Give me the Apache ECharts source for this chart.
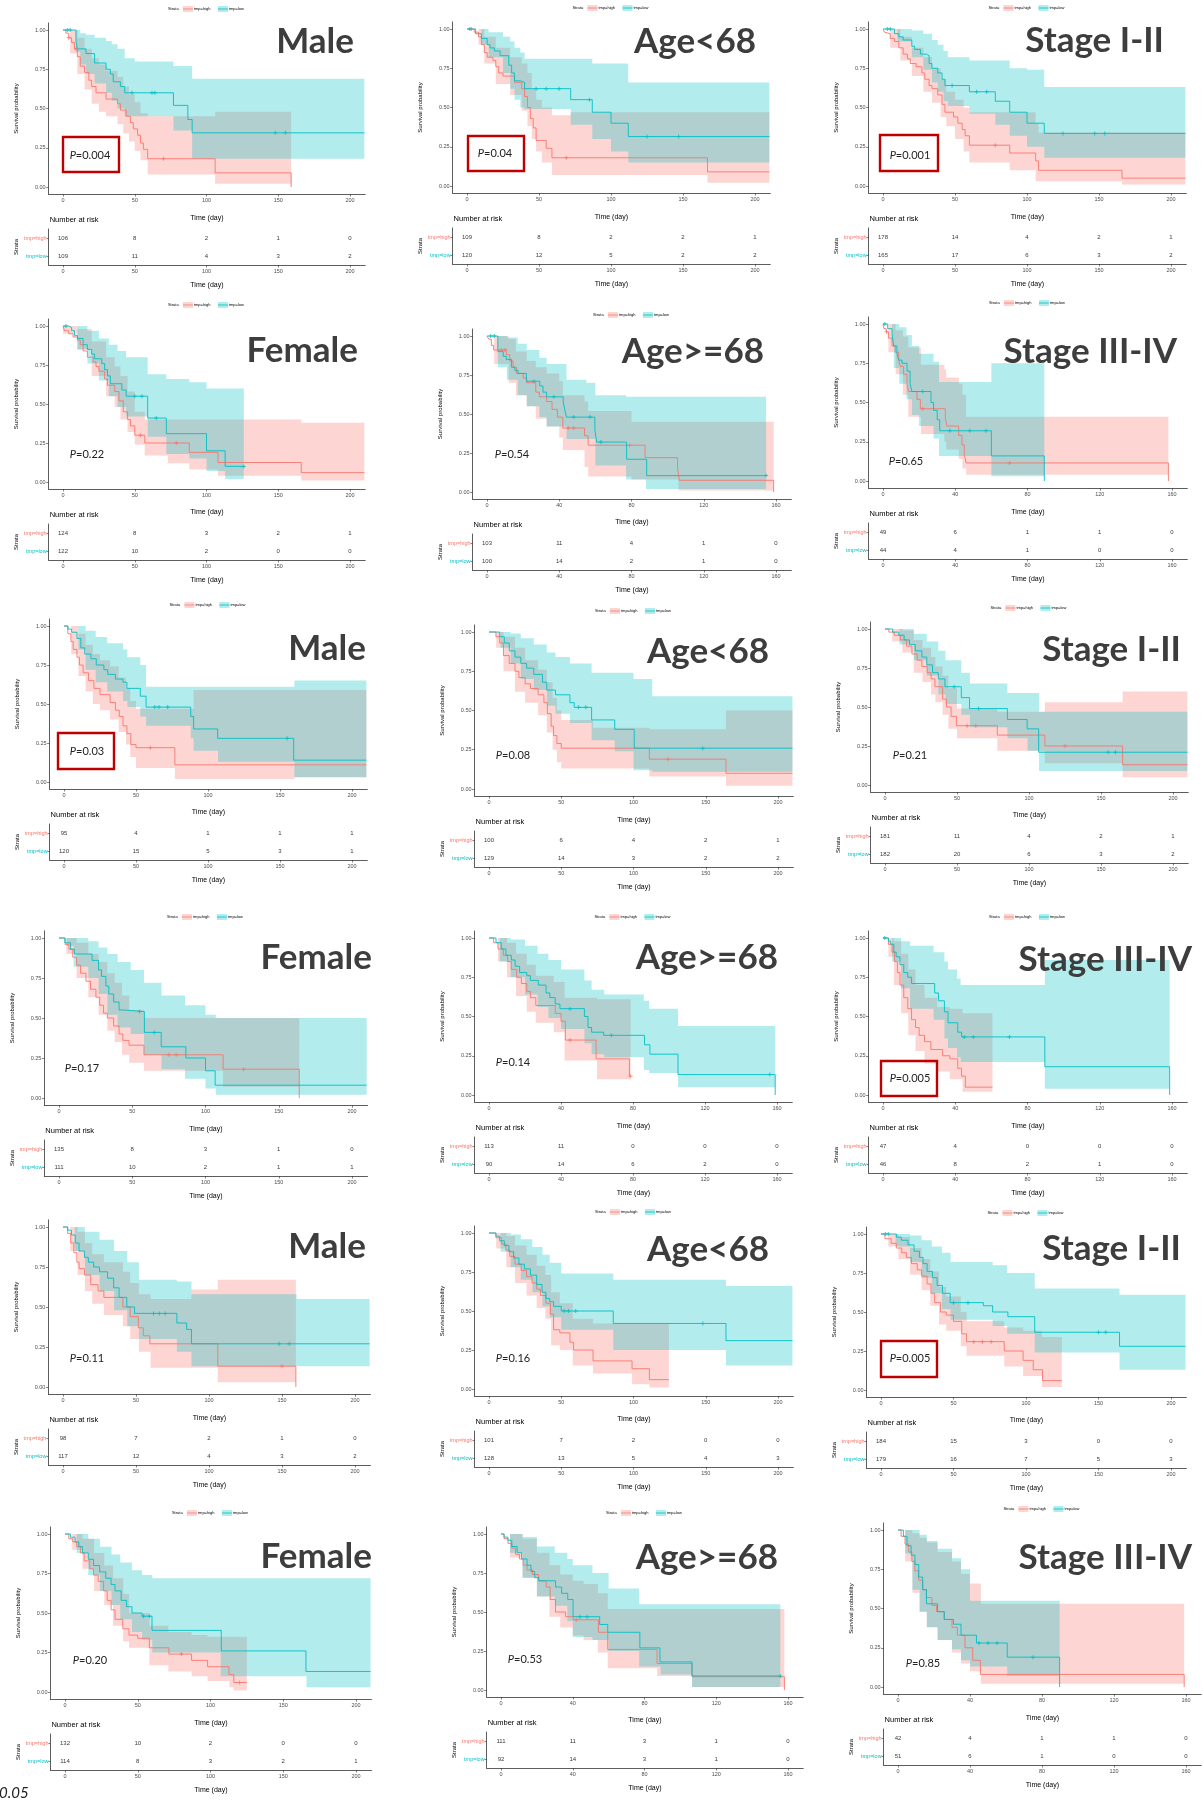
<!DOCTYPE html>
<html><head><meta charset="utf-8">
<script src="https://cdn.jsdelivr.net/npm/echarts@6/dist/echarts.min.js"></script>
<style>html,body{margin:0;padding:0;background:#fff}#c{width:1203px;height:1802px}</style>
</head><body><div id="c"></div><script>
// ---------------- DATA ----------------
const titles = ['Male','Age<68','Stage I-II','Female','Age>=68','Stage III-IV','Male','Age<68','Stage I-II','Female','Age>=68','Stage III-IV','Male','Age<68','Stage I-II','Female','Age>=68','Stage III-IV'];
const pValues = ['0.004','0.04','0.001','0.22','0.54','0.65','0.03','0.08','0.21','0.17','0.14','0.005','0.11','0.16','0.005','0.20','0.53','0.85'];
const pBoxed = [1,1,1,0,0,0,1,0,0,0,0,1,0,0,1,0,0,0];
const timeMax = [200,200,200,200,160,160,200,200,200,200,160,160,200,200,200,200,160,160];
const ticks200 = [0,50,100,150,200];
const ticks160 = [0,40,80,120,160];
const survTicks = [0,0.25,0.5,0.75,1];
const strata = ['tmp=low','tmp=high'];
const riskHigh = [[106,8,2,1,0],[109,8,2,2,1],[178,14,4,2,1],[124,8,3,2,1],[103,11,4,1,0],[49,6,1,1,0],[95,4,1,1,1],[100,6,4,2,1],[181,11,4,2,1],[135,8,3,1,0],[113,11,0,0,0],[47,4,0,0,0],[98,7,2,1,0],[101,7,2,0,0],[184,15,3,0,0],[132,10,2,0,0],[111,11,3,1,0],[42,4,1,1,0]];
const riskLow = [[109,11,4,3,2],[120,12,5,2,2],[165,17,6,3,2],[122,10,2,0,0],[100,14,2,1,0],[44,4,1,0,0],[120,15,5,3,1],[129,14,3,2,2],[182,20,6,3,2],[111,10,2,1,1],[90,14,6,2,0],[46,8,2,1,0],[117,12,4,3,2],[128,13,5,4,3],[179,16,7,5,3],[114,8,3,2,1],[92,14,3,1,0],[51,6,1,0,0]];

// panel 1
const highCurve1=[[0,1],[2,0.98],[4,0.95],[6,0.92],[8,0.88],[10,0.83],[12,0.77],[15,0.73],[18,0.68],[20,0.64],[23,0.60],[30,0.56],[38,0.53],[40,0.49],[44,0.45],[47,0.41],[49,0.37],[52,0.33],[54,0.28],[56,0.24],[59,0.18],[106,0.09],[159,0]];
const highBand1=[[0,1,1],[5,0.85,1],[10,0.72,0.95],[15,0.62,0.88],[20,0.53,0.82],[25,0.48,0.78],[30,0.45,0.74],[38,0.40,0.70],[42,0.34,0.64],[46,0.29,0.59],[50,0.23,0.54],[54,0.17,0.47],[59,0.08,0.45],[106,0.02,0.48]];
const highCens1=[4,9,70];
const lowCurve1=[[0,1],[9,0.93],[10,0.88],[16,0.85],[22,0.79],[30,0.75],[33,0.72],[35,0.67],[40,0.64],[43,0.60],[77,0.52],[87,0.43],[90,0.345],[210,0.345]];
const lowBand1=[[0,1,1],[9,0.86,1],[12,0.78,0.98],[16,0.72,0.97],[22,0.66,0.95],[30,0.60,0.93],[34,0.55,0.91],[38,0.50,0.88],[43,0.45,0.82],[50,0.45,0.80],[77,0.36,0.77],[90,0.18,0.69]];
const lowCens1=[3,5,48,62,64,148,155];
// panel 2
const highCurve2=[[0,1],[5,0.98],[8,0.95],[10,0.90],[12,0.85],[14,0.82],[18,0.80],[20,0.76],[22,0.72],[25,0.70],[33,0.66],[38,0.62],[40,0.57],[42,0.50],[44,0.43],[46,0.37],[48,0.29],[55,0.24],[59,0.18],[167,0.09],[210,0.09]];
const highBand2=[[0,1,1],[8,0.90,1],[12,0.78,0.95],[20,0.65,0.88],[30,0.58,0.82],[38,0.48,0.78],[42,0.38,0.72],[45,0.30,0.62],[48,0.22,0.55],[52,0.15,0.50],[59,0.07,0.45],[72,0.07,0.47],[167,0.02,0.47]];
const highCens2=[3,69];
const lowCurve2=[[0,1],[6,0.97],[10,0.94],[14,0.90],[16,0.88],[19,0.86],[23,0.83],[29,0.77],[31,0.72],[33,0.67],[37,0.66],[40,0.62],[72,0.55],[87,0.47],[100,0.40],[112,0.315],[210,0.315]];
const lowBand2=[[0,1,1],[10,0.90,1],[15,0.82,0.98],[25,0.72,0.95],[30,0.62,0.92],[33,0.55,0.88],[37,0.50,0.85],[40,0.49,0.81],[72,0.39,0.81],[87,0.30,0.78],[100,0.22,0.78],[112,0.15,0.66]];
const lowCens2=[2,48,55,64,85,125,147];
// panel 3
const highCurve3=[[0,1],[1,0.98],[2,0.97],[5,0.94],[8,0.92],[11,0.88],[14,0.84],[17,0.81],[19,0.78],[23,0.76],[27,0.72],[29,0.68],[32,0.64],[34,0.62],[38,0.58],[41,0.52],[43,0.47],[49,0.44],[52,0.40],[55,0.36],[57,0.32],[60,0.26],[88,0.21],[106,0.16],[108,0.10],[166,0.05],[210,0.05]];
const highBand3=[[0,1,1],[5,0.88,1],[12,0.80,0.95],[20,0.70,0.88],[28,0.60,0.82],[34,0.53,0.75],[40,0.44,0.68],[44,0.38,0.60],[50,0.30,0.55],[56,0.22,0.50],[60,0.15,0.47],[88,0.10,0.47],[106,0.03,0.40],[108,0.03,0.34],[166,0.01,0.34]];
const highCens3=[78];
const lowCurve3=[[0,1],[8,0.97],[11,0.95],[14,0.93],[20,0.89],[22,0.87],[26,0.84],[30,0.83],[32,0.78],[34,0.75],[38,0.72],[41,0.68],[43,0.64],[60,0.60],[78,0.54],[88,0.47],[100,0.40],[112,0.335],[210,0.335]];
const lowBand3=[[0,1,1],[10,0.92,1],[20,0.82,0.99],[28,0.74,0.97],[34,0.66,0.93],[38,0.60,0.90],[42,0.54,0.86],[45,0.51,0.82],[60,0.46,0.80],[78,0.39,0.80],[88,0.32,0.75],[100,0.25,0.74],[112,0.18,0.63]];
const lowCens3=[3,5,48,65,72,125,147,154];
// panel 4
const highCurve4=[[0,1],[1,0.97],[4,0.95],[7,0.93],[10,0.91],[12,0.88],[14,0.84],[17,0.80],[21,0.77],[23,0.74],[25,0.71],[29,0.66],[31,0.62],[36,0.58],[39,0.52],[42,0.45],[45,0.40],[47,0.36],[50,0.30],[57,0.25],[88,0.19],[108,0.125],[166,0.06],[210,0.06]];
const highBand4=[[0,0.95,1],[10,0.85,0.98],[20,0.68,0.90],[30,0.55,0.80],[36,0.48,0.74],[40,0.40,0.68],[45,0.32,0.58],[50,0.24,0.45],[57,0.17,0.40],[73,0.12,0.40],[88,0.08,0.40],[108,0.04,0.40],[166,0.01,0.38]];
const highCens4=[54,79];
const lowCurve4=[[0,1],[4,0.99],[6,0.97],[8,0.94],[10,0.92],[14,0.88],[17,0.85],[20,0.82],[22,0.79],[27,0.76],[29,0.72],[31,0.68],[33,0.63],[41,0.59],[44,0.55],[59,0.41],[72,0.31],[100,0.20],[113,0.10],[126,0.10]];
const lowBand4=[[0,1,1],[10,0.85,1],[17,0.76,0.97],[25,0.65,0.92],[32,0.55,0.88],[38,0.48,0.84],[44,0.42,0.80],[59,0.29,0.69],[72,0.18,0.66],[88,0.15,0.64],[100,0.07,0.60],[113,0.02,0.60]];
const lowCens4=[2,50,55,65,126];
// panel 5
const highCurve5=[[0,1],[1,0.98],[2.4,0.94],[3.7,0.91],[10.7,0.88],[12.6,0.84],[14.4,0.80],[16.3,0.76],[20,0.73],[22,0.70],[27,0.64],[29,0.61],[33,0.58],[36,0.53],[39,0.48],[42,0.41],[54,0.36],[56,0.30],[87.5,0.22],[105.5,0.15],[106.5,0.075],[158.7,0]];
const highBand5=[[0,1,1],[4,0.82,1],[12,0.70,0.98],[16,0.62,0.90],[22,0.55,0.84],[27,0.47,0.80],[33,0.42,0.76],[40,0.35,0.71],[42,0.27,0.62],[54,0.16,0.58],[56,0.10,0.52],[80,0.08,0.45],[106,0.01,0.45]];
const highCens5=[8,10,45,48,79];
const lowCurve5=[[0,1],[6,0.90],[9,0.87],[10.7,0.85],[13.5,0.80],[15.4,0.78],[17.2,0.76],[21.8,0.71],[29.2,0.68],[31,0.64],[33,0.61],[42.2,0.58],[43,0.53],[44,0.48],[59.7,0.40],[60.7,0.32],[77.3,0.21],[88.4,0.105],[154.5,0.105]];
const lowBand5=[[0,1,1],[6,0.80,1],[11,0.72,0.99],[17,0.62,0.95],[22,0.55,0.91],[29,0.48,0.86],[33,0.42,0.82],[44,0.34,0.72],[55,0.34,0.70],[60,0.17,0.62],[77,0.08,0.61],[88,0.02,0.61]];
const lowCens5=[2,4,26,37,48,57,63,154.5];
// panel 6
const highCurve6=[[0,1],[0.5,0.97],[1.8,0.95],[3,0.91],[5,0.86],[6.8,0.82],[8.7,0.77],[9.6,0.73],[11.4,0.68],[13.3,0.62],[14.2,0.57],[18.8,0.52],[20.7,0.46],[34.5,0.40],[35.4,0.35],[41.9,0.29],[43.7,0.23],[45,0.17],[46,0.115],[158,0]];
const highBand6=[[0,1,1],[3,0.82,1],[7,0.68,0.96],[11,0.55,0.92],[14,0.41,0.85],[21,0.30,0.74],[34,0.25,0.71],[35,0.20,0.66],[42,0.14,0.62],[44,0.08,0.55],[46,0.04,0.41]];
const highCens6=[2,22,70];
const lowCurve6=[[0,1],[2.6,0.97],[5,0.94],[5.9,0.86],[7.7,0.81],[8.7,0.77],[10.5,0.75],[13.3,0.70],[15,0.62],[16,0.57],[26.6,0.50],[28,0.45],[30,0.39],[31.4,0.32],[60,0.16],[89.3,0]];
const lowBand6=[[0,1,1],[5,0.88,1],[6,0.72,1],[9,0.62,0.98],[13,0.52,0.93],[16,0.42,0.86],[20,0.35,0.81],[28,0.27,0.76],[31,0.16,0.63],[60,0.03,0.75]];
const lowCens6=[1,22,37,48,57];
// panel 7
const highCurve7=[[0,1],[2.7,0.95],[4.8,0.90],[6.4,0.85],[9,0.80],[10.7,0.75],[13.3,0.70],[17,0.65],[20.8,0.60],[25,0.56],[32,0.51],[35.7,0.46],[38.4,0.42],[41,0.36],[43.7,0.31],[46.4,0.24],[50,0.22],[77,0.11],[210,0.11]];
const highBand7=[[0,1,1],[5,0.82,1],[10,0.68,0.95],[15,0.58,0.88],[20,0.50,0.82],[25,0.46,0.78],[32,0.40,0.74],[38,0.32,0.67],[43,0.24,0.60],[46,0.16,0.52],[50,0.09,0.47],[77,0.02,0.47],[90,0.02,0.59],[160,0.03,0.59]];
const highCens7=[60];
const lowCurve7=[[0,1],[2.7,0.98],[5.3,0.96],[9,0.92],[11.7,0.86],[14.4,0.82],[18.7,0.79],[22.4,0.75],[27.7,0.72],[30.4,0.69],[35.7,0.66],[41,0.64],[43.7,0.60],[53,0.55],[57,0.48],[88,0.42],[90,0.34],[106.7,0.28],[159.5,0.14],[210,0.14]];
const lowBand7=[[0,1,1],[10,0.85,1],[15,0.72,0.97],[22,0.64,0.93],[30,0.58,0.89],[41,0.52,0.85],[44,0.48,0.80],[53,0.42,0.75],[57,0.36,0.61],[88,0.28,0.61],[90,0.20,0.61],[107,0.13,0.61],[160,0.03,0.65]];
const lowCens7=[63,66,72,155];
// panel 8
const highCurve8=[[0,1],[4.8,0.97],[7.4,0.93],[10,0.85],[14,0.80],[18,0.75],[20.7,0.71],[25,0.67],[28.7,0.64],[34,0.60],[38,0.55],[40.4,0.48],[43,0.40],[44.7,0.34],[47,0.29],[50,0.26],[111,0.19],[164,0.10],[210,0.10]];
const highBand8=[[0,1,1],[5,0.90,1],[10,0.75,0.97],[18,0.62,0.90],[25,0.55,0.82],[34,0.47,0.76],[40,0.36,0.68],[44,0.25,0.58],[47,0.17,0.50],[50,0.13,0.44],[72,0.13,0.39],[111,0.08,0.38],[164,0.02,0.50]];
const highCens8=[124];
const lowCurve8=[[0,1],[7.4,0.97],[10.6,0.93],[14,0.88],[18,0.84],[22,0.80],[26,0.77],[31,0.73],[37,0.68],[40,0.63],[46,0.60],[56,0.55],[59,0.52],[71,0.44],[87,0.38],[100.5,0.26],[210,0.26]];
const lowBand8=[[0,1,1],[8,0.90,1],[15,0.80,0.99],[22,0.70,0.96],[31,0.63,0.92],[40,0.53,0.87],[46,0.48,0.84],[56,0.42,0.80],[71,0.31,0.74],[87,0.24,0.74],[100,0.12,0.70],[113,0.11,0.59]];
const lowCens8=[62,67,148];
// panel 9
const highCurve9=[[0,1],[2.7,0.98],[6.4,0.96],[10.7,0.93],[15,0.89],[18.7,0.84],[22.4,0.80],[25.6,0.76],[29.3,0.72],[32,0.68],[34.7,0.63],[40,0.55],[42.7,0.50],[45.9,0.44],[49.6,0.38],[78,0.32],[111,0.25],[165,0.13],[210,0.13]];
const highBand9=[[0,1,1],[5,0.92,1],[12,0.85,0.99],[20,0.72,0.93],[26,0.66,0.88],[32,0.58,0.82],[35,0.53,0.76],[40,0.45,0.70],[44,0.36,0.62],[50,0.30,0.49],[78,0.22,0.47],[111,0.14,0.53],[165,0.05,0.60]];
const highCens9=[57,63,125];
const lowCurve9=[[0,1],[5.3,0.98],[9.6,0.96],[13.3,0.93],[17,0.90],[21,0.86],[25.6,0.82],[29,0.77],[33,0.72],[37,0.68],[41.6,0.63],[53,0.56],[58.7,0.49],[85,0.42],[98.7,0.36],[106.7,0.21],[210,0.21]];
const lowBand9=[[0,1,1],[10,0.90,1],[20,0.80,0.97],[29,0.70,0.92],[37,0.58,0.86],[42,0.52,0.80],[53,0.45,0.72],[59,0.37,0.65],[85,0.30,0.59],[99,0.22,0.59],[107,0.09,0.47]];
const lowCens9=[48,65,155,160];
// panel 10
const highCurve10=[[0,1],[4.2,0.96],[6.8,0.93],[9.4,0.88],[12,0.83],[14.7,0.78],[18.4,0.73],[21.5,0.68],[25.2,0.63],[27.8,0.58],[30.4,0.53],[33,0.50],[37.3,0.45],[41,0.40],[43.6,0.36],[47.8,0.33],[58,0.27],[112,0.18],[164,0]];
const highBand10=[[0,1,1],[5,0.90,1],[12,0.75,0.97],[20,0.63,0.90],[27,0.52,0.85],[33,0.42,0.78],[38,0.35,0.72],[43,0.27,0.64],[48,0.22,0.55],[58,0.17,0.50],[112,0.07,0.50]];
const highCens10=[75,80,126];
const lowCurve10=[[0,1],[4,0.97],[7.9,0.93],[10.5,0.90],[22.6,0.86],[27,0.80],[29,0.76],[32,0.70],[34,0.65],[37.3,0.60],[41,0.55],[44.6,0.54],[58.3,0.41],[69.8,0.32],[86.6,0.25],[100,0.17],[106.6,0.08],[210,0.08]];
const lowBand10=[[0,1,1],[5,0.95,1],[10,0.82,1],[20,0.75,0.98],[27,0.65,0.94],[33,0.52,0.90],[40,0.44,0.85],[49,0.40,0.80],[58,0.27,0.72],[70,0.18,0.64],[86,0.12,0.58],[100,0.06,0.52],[107,0.02,0.50]];
const lowCens10=[55,65];
// panel 11
const highCurve11=[[0,1],[2.6,0.97],[5,0.93],[8,0.89],[10.3,0.85],[12.4,0.80],[15.4,0.75],[18,0.71],[21,0.66],[23,0.62],[26,0.57],[36.8,0.52],[40,0.47],[42.4,0.35],[59.5,0.23],[78,0.12],[78.7,0.12]];
const highBand11=[[0,1,1],[5,0.85,1],[10,0.75,0.97],[15,0.63,0.90],[21,0.53,0.83],[26,0.46,0.76],[36,0.40,0.72],[42,0.22,0.62],[60,0.10,0.61]];
const highCens11=[45,78.7];
const lowCurve11=[[0,1],[3.9,0.97],[6.8,0.93],[9.4,0.89],[12.4,0.86],[14.5,0.82],[17,0.78],[21,0.76],[23,0.73],[27.4,0.70],[31.7,0.65],[33.8,0.62],[36.8,0.58],[39.4,0.55],[53,0.50],[55,0.43],[57,0.40],[63.7,0.38],[86.4,0.32],[89.4,0.26],[105,0.13],[159,0]];
const lowBand11=[[0,1,1],[6,0.85,1],[12,0.75,0.99],[20,0.64,0.95],[27,0.56,0.90],[33,0.49,0.86],[40,0.42,0.80],[53,0.33,0.73],[57,0.26,0.67],[64,0.24,0.64],[86,0.16,0.60],[89,0.14,0.55],[105,0.05,0.44]];
const lowCens11=[45,68,156];
// panel 12
const highCurve12=[[0,1],[3,0.96],[5,0.91],[6.4,0.85],[8,0.78],[9.4,0.70],[11.5,0.62],[13.7,0.55],[15.8,0.48],[18,0.43],[20,0.38],[23,0.34],[26.5,0.29],[33,0.25],[37,0.23],[41.4,0.17],[43.5,0.12],[45.6,0.05],[60.6,0.05]];
const highBand12=[[0,1,1],[3,0.88,1],[6,0.70,0.98],[10,0.52,0.90],[14,0.38,0.80],[18,0.28,0.70],[23,0.20,0.62],[30,0.15,0.56],[37,0.10,0.55],[44,0.02,0.52]];
const highCens12=[];
const lowCurve12=[[0,1],[3,0.98],[4.3,0.96],[6,0.91],[7.3,0.88],[9.4,0.83],[11.5,0.78],[13.7,0.75],[15.8,0.71],[28.6,0.65],[30.7,0.60],[34,0.53],[36,0.46],[41.4,0.40],[43.5,0.37],[89.6,0.18],[158.7,0]];
const lowBand12=[[0,1,1],[5,0.85,1],[10,0.68,0.98],[15,0.55,0.95],[28,0.48,0.91],[34,0.36,0.85],[36,0.30,0.80],[41,0.24,0.74],[43,0.21,0.70],[89.6,0.04,0.86]];
const lowCens12=[1,45,50,70];
// panel 13
const highCurve13=[[0,1],[3.2,0.96],[5.3,0.90],[7.4,0.84],[9.5,0.78],[11,0.74],[14.7,0.70],[19,0.64],[24,0.60],[28,0.56],[41,0.50],[46,0.44],[51.6,0.37],[55,0.32],[59.5,0.27],[106,0.13],[159.5,0]];
const highBand13=[[0,1,1],[5,0.85,1],[10,0.70,0.97],[15,0.60,0.90],[20,0.52,0.83],[28,0.45,0.78],[41,0.38,0.72],[46,0.30,0.65],[52,0.22,0.58],[60,0.12,0.55],[88,0.12,0.61],[106,0.03,0.67]];
const highCens13=[150];
const lowCurve13=[[0,1],[3.2,0.98],[5.8,0.95],[8.4,0.90],[11,0.85],[14.7,0.81],[17.4,0.78],[21,0.75],[25,0.72],[30.5,0.68],[34.7,0.62],[38.4,0.56],[43.7,0.50],[49,0.46],[78,0.40],[84.7,0.36],[88,0.27],[210,0.27]];
const lowBand13=[[0,1,1],[8,0.85,1],[15,0.70,0.97],[25,0.60,0.92],[35,0.48,0.85],[44,0.38,0.78],[52,0.30,0.67],[78,0.22,0.66],[88,0.13,0.58],[160,0.13,0.55]];
const lowCens13=[62,66,70,148,155];
// panel 14
const highCurve14=[[0,1],[4.8,0.97],[8.5,0.93],[11.7,0.89],[14.4,0.85],[18,0.80],[22.3,0.76],[26,0.72],[29.8,0.68],[33,0.64],[35.6,0.60],[39.4,0.55],[42.5,0.48],[44.7,0.38],[49,0.36],[56,0.30],[58.5,0.25],[72,0.18],[99,0.13],[111,0.06],[124.5,0.06]];
const highBand14=[[0,1,1],[5,0.90,1],[12,0.78,0.98],[18,0.68,0.92],[26,0.60,0.86],[33,0.52,0.79],[39,0.45,0.73],[43,0.28,0.62],[49,0.25,0.55],[58,0.15,0.45],[72,0.10,0.42],[99,0.03,0.42],[111,0.01,0.42]];
const highCens14=[];
const lowCurve14=[[0,1],[4.8,0.98],[7.4,0.95],[10.6,0.92],[13.8,0.88],[17,0.84],[20.7,0.80],[24.5,0.77],[28.7,0.73],[33,0.67],[36.7,0.62],[39.4,0.58],[42,0.56],[44.7,0.53],[50,0.50],[86,0.42],[164,0.31],[210,0.31]];
const lowBand14=[[0,1,1],[8,0.88,1],[15,0.78,0.99],[22,0.70,0.96],[30,0.62,0.91],[37,0.53,0.86],[42,0.46,0.81],[50,0.38,0.74],[86,0.25,0.70],[164,0.15,0.66]];
const lowCens14=[52,55,60,148];
// panel 15
const highCurve15=[[0,1],[2.7,0.97],[7,0.94],[10.6,0.91],[14.3,0.88],[17.5,0.85],[21,0.81],[25,0.77],[28,0.73],[31.8,0.68],[34.5,0.62],[37,0.56],[41,0.50],[45,0.48],[50,0.44],[55.7,0.36],[59,0.31],[85,0.25],[98,0.19],[105,0.13],[111.4,0.06],[124.7,0.06]];
const highBand15=[[0,1,1],[5,0.92,1],[12,0.84,0.98],[20,0.74,0.91],[28,0.64,0.84],[34,0.54,0.76],[40,0.42,0.66],[45,0.38,0.60],[55,0.28,0.50],[59,0.22,0.44],[85,0.15,0.40],[98,0.09,0.38],[111,0.02,0.34]];
const highCens15=[64,70,76];
const lowCurve15=[[0,1],[10.6,0.98],[14,0.96],[18.6,0.93],[22.8,0.89],[26.5,0.85],[29,0.81],[31.8,0.76],[35.5,0.72],[38.7,0.67],[42.4,0.62],[47.7,0.56],[70.6,0.54],[77,0.50],[87.5,0.47],[106,0.37],[164.5,0.28],[210,0.28]];
const lowBand15=[[0,1,1],[10,0.92,1],[20,0.82,0.99],[28,0.72,0.96],[35,0.62,0.92],[42,0.52,0.88],[48,0.45,0.82],[77,0.41,0.80],[87,0.36,0.75],[106,0.24,0.65],[164.5,0.13,0.61]];
const lowCens15=[3,5,50,60,150,155];
// panel 16
const highCurve16=[[0,1],[2.6,0.97],[5.3,0.95],[8,0.92],[10.6,0.88],[13.2,0.83],[17,0.78],[19.6,0.74],[22.8,0.70],[26.5,0.64],[29,0.58],[31.7,0.52],[34.4,0.46],[39.7,0.40],[44,0.36],[50,0.34],[58,0.28],[71.4,0.24],[87,0.20],[98,0.16],[112.7,0.11],[116,0.06],[125,0.06]];
const highBand16=[[0,1,1],[5,0.90,1],[12,0.78,0.97],[20,0.64,0.88],[27,0.55,0.80],[33,0.42,0.72],[40,0.32,0.62],[44,0.28,0.50],[58,0.17,0.42],[71,0.13,0.38],[87,0.10,0.36],[98,0.07,0.35],[113,0.03,0.35],[116,0.01,0.35]];
const highCens16=[80,120];
const lowCurve16=[[0,1],[3.7,0.98],[6.9,0.95],[9.5,0.92],[12,0.88],[16,0.84],[19.6,0.80],[23.8,0.76],[28,0.72],[31.7,0.68],[34.4,0.64],[38.6,0.58],[42.3,0.54],[46,0.50],[53,0.48],[59.8,0.39],[107.4,0.26],[165.6,0.13],[210,0.13]];
const lowBand16=[[0,1,1],[8,0.88,1],[16,0.74,0.97],[24,0.64,0.92],[32,0.55,0.87],[38,0.46,0.82],[46,0.38,0.77],[53,0.33,0.74],[60,0.25,0.72],[107,0.10,0.72],[166,0.03,0.72]];
const lowCens16=[54,58];
// panel 17
const highCurve17=[[0,1],[1.7,0.97],[3.9,0.94],[6,0.91],[8.1,0.87],[10.3,0.84],[12.4,0.80],[14.5,0.77],[17.5,0.74],[21,0.70],[25.2,0.66],[27.4,0.58],[30.4,0.50],[36,0.47],[40.2,0.45],[54.3,0.37],[59.5,0.26],[87,0.17],[106.5,0.085],[158,0]];
const highBand17=[[0,1,1],[5,0.85,1],[12,0.72,0.97],[20,0.60,0.88],[27,0.47,0.80],[33,0.40,0.74],[40,0.35,0.70],[46,0.32,0.68],[54,0.24,0.62],[59.5,0.14,0.52],[87,0.09,0.52],[106.5,0.02,0.52]];
const highCens17=[42];
const lowCurve17=[[0,1],[1.7,0.98],[3.9,0.96],[6,0.92],[9,0.88],[11.5,0.84],[14.5,0.80],[16.7,0.76],[18.8,0.72],[21,0.70],[30.4,0.66],[33.8,0.62],[37.2,0.58],[40.2,0.47],[55,0.42],[59.5,0.37],[77.4,0.27],[88.6,0.18],[106.5,0.09],[155.7,0.09]];
const lowBand17=[[0,1,1],[5,0.88,1],[12,0.72,0.98],[20,0.60,0.92],[30,0.54,0.88],[37,0.44,0.84],[40,0.34,0.80],[51,0.32,0.75],[60,0.25,0.65],[77,0.15,0.55],[89,0.10,0.55],[106.5,0.02,0.55]];
const lowCens17=[44,48,155.7];
// panel 18
const highCurve18=[[0,1],[1.7,0.96],[3.9,0.91],[6,0.86],[7.7,0.80],[9.4,0.74],[11.5,0.68],[13.7,0.62],[15.8,0.57],[18.8,0.52],[21.4,0.48],[25.7,0.43],[30,0.38],[33,0.33],[37.2,0.25],[41.5,0.17],[45.8,0.08],[159,0]];
const highBand18=[[0,1,1],[4,0.80,1],[8,0.60,0.98],[12,0.48,0.95],[16,0.38,0.92],[22,0.30,0.86],[30,0.22,0.80],[35,0.15,0.72],[40,0.10,0.66],[46,0.02,0.53]];
const highCens18=[];
const lowCurve18=[[0,1],[3,0.96],[5,0.90],[7.3,0.84],[9.4,0.78],[11.5,0.70],[13.7,0.62],[15.8,0.53],[22,0.48],[25.7,0.43],[30.8,0.40],[35,0.33],[43.6,0.28],[60.7,0.19],[89.8,0]];
const lowBand18=[[0,1,1],[4,0.85,1],[8,0.62,1],[12,0.48,0.97],[16,0.38,0.93],[22,0.30,0.88],[30,0.24,0.82],[35,0.17,0.75],[40,0.13,0.55],[60.7,0.07,0.55]];
const lowCens18=[45,50,55,75];

const highCurves=[highCurve1,highCurve2,highCurve3,highCurve4,highCurve5,highCurve6,highCurve7,highCurve8,highCurve9,highCurve10,highCurve11,highCurve12,highCurve13,highCurve14,highCurve15,highCurve16,highCurve17,highCurve18];
const highBands=[highBand1,highBand2,highBand3,highBand4,highBand5,highBand6,highBand7,highBand8,highBand9,highBand10,highBand11,highBand12,highBand13,highBand14,highBand15,highBand16,highBand17,highBand18];
const highCens=[highCens1,highCens2,highCens3,highCens4,highCens5,highCens6,highCens7,highCens8,highCens9,highCens10,highCens11,highCens12,highCens13,highCens14,highCens15,highCens16,highCens17,highCens18];
const lowCurves=[lowCurve1,lowCurve2,lowCurve3,lowCurve4,lowCurve5,lowCurve6,lowCurve7,lowCurve8,lowCurve9,lowCurve10,lowCurve11,lowCurve12,lowCurve13,lowCurve14,lowCurve15,lowCurve16,lowCurve17,lowCurve18];
const lowBands=[lowBand1,lowBand2,lowBand3,lowBand4,lowBand5,lowBand6,lowBand7,lowBand8,lowBand9,lowBand10,lowBand11,lowBand12,lowBand13,lowBand14,lowBand15,lowBand16,lowBand17,lowBand18];
const lowCens=[lowCens1,lowCens2,lowCens3,lowCens4,lowCens5,lowCens6,lowCens7,lowCens8,lowCens9,lowCens10,lowCens11,lowCens12,lowCens13,lowCens14,lowCens15,lowCens16,lowCens17,lowCens18];

// ---------------- LAYOUT (pixels) ----------------
// [x of t=0, x of last tick, y of 1.00, y of 0.00, title right x, title mid y, P x, P y, box x0,y0,x1,y1]
const layout = [
 [63,350,30,187, 354,42, 90,155, 63,137,119,172],
 [467,755,29,186, 756,42, 495,153, 468,136,524,171],
 [883,1171,29,186, 1164,41, 910,155, 880,135,938,171],
 [63,350,326,482, 358,351, 87,454],
 [487,776,336,492, 764,352, 512,454],
 [883,1172,324,481, 1177,352, 906,461],
 [64,352,626,782, 366,649, 87,751, 58,733,114,769],
 [489,778,632,789, 769,652, 513,755],
 [885,1173,629,785, 1181,650, 910,755],
 [59,352,938,1098, 372,958, 82,1068],
 [489,777,938,1095, 778,958, 513,1062],
 [883,1172,938,1095, 1192,960, 910,1078, 881,1061,937,1096],
 [63,355,1227,1387, 366,1247, 87,1358],
 [489,778,1233,1389, 769,1250, 513,1358],
 [881,1171,1234,1390, 1181,1249, 910,1358, 881,1341,937,1377],
 [65,356,1534,1692, 372,1557, 90,1660],
 [501,788,1534,1690, 778,1558, 525,1659],
 [898,1186,1530,1687, 1192,1558, 923,1663]
];
const showLegend = [1,1,1,1,1,1,1,1,1,1,1,1,0,1,1,1,1,1];

// ---------------- BUILD ----------------
const RED='#F8766D', TEAL='#00BFC4';
const RED_BAND='rgba(248,118,109,0.3)', TEAL_BAND='rgba(0,191,196,0.3)';
const SANS='"Liberation Sans", Arial, sans-serif';
const TFONT='Lato, "Open Sans", sans-serif';
const AX='#333333';
const PLUS='path://M3,0H5V3H8V5H5V8H3V5H0V3H3Z';

function stepAt(curve,t){let v=curve[0][1];for(const p of curve){if(p[0]<=t)v=p[1];else break;}return v;}
function bandSeries(band,tEnd,color,ai){
  return {type:'custom',xAxisIndex:ai,yAxisIndex:ai,silent:true,animation:false,data:[[0,0]],encode:{x:0,y:1},z:1,
    renderItem:function(params,api){
      const pts=[];
      for(let k=0;k<band.length;k++){const t1=k+1<band.length?band[k+1][0]:tEnd;pts.push(api.coord([band[k][0],band[k][2]]));pts.push(api.coord([t1,band[k][2]]));}
      for(let k=band.length-1;k>=0;k--){const t1=k+1<band.length?band[k+1][0]:tEnd;pts.push(api.coord([t1,band[k][1]]));pts.push(api.coord([band[k][0],band[k][1]]));}
      return {type:'polygon',shape:{points:pts},style:{fill:color}};
    }};
}
function txt(x,y,text,o){
  o=o||{};
  return {type:'text',x:x,y:y,z:100,rotation:o.rot||0,silent:true,style:Object.assign({text:text,fontSize:o.size||6,fontFamily:o.family||SANS,fontWeight:o.weight||'normal',fontStyle:o.style||'normal',fill:o.color||'#000',align:o.align||'left',verticalAlign:o.valign||'middle',textAlign:o.align||'left',textVerticalAlign:o.valign||'middle'},o.extra||{})};
}

const grids=[],xAxes=[],yAxes=[],series=[],graphics=[];
for(let i=0;i<18;i++){
  const L=layout[i];
  const x0=L[0],xE=L[1],y1=L[2],y0=L[3];
  const T=timeMax[i];
  const ticks=T===200?ticks200:ticks160;
  const xmin=-0.05*T,xmax=1.053*T;
  const ppd=(xE-x0)/T;
  const left=x0+xmin*ppd,width=(xmax-xmin)*ppd;
  const ppu=y0-y1;
  const top=y1-0.045*ppu,height=1.09*ppu;
  grids.push({left:left,top:top,width:width,height:height,containLabel:false,outerBoundsMode:'none'});
  grids.push({left:left,top:y0+42,width:width,height:36,containLabel:false,outerBoundsMode:'none'});
  const gm=2*i,gr=2*i+1;
  const axLine={show:true,onZero:false,lineStyle:{color:AX,width:0.8}};
  xAxes.push({gridIndex:gm,type:'value',min:xmin,max:xmax,axisLine:axLine,splitLine:{show:false},
    axisTick:{show:true,length:2.5,customValues:ticks,lineStyle:{color:AX,width:0.6}},
    axisLabel:{customValues:ticks,fontSize:5.5,color:'#4d4d4d',margin:3,fontFamily:SANS},
    name:'Time (day)',nameLocation:'middle',nameGap:20,nameTextStyle:{fontSize:7,color:'#000',fontFamily:SANS}});
  yAxes.push({gridIndex:gm,type:'value',min:-0.045,max:1.045,axisLine:axLine,splitLine:{show:false},
    axisTick:{show:true,length:2.5,customValues:survTicks,lineStyle:{color:AX,width:0.6}},
    axisLabel:{customValues:survTicks,fontSize:5.5,color:'#4d4d4d',margin:3,fontFamily:SANS,formatter:v=>Number(v).toFixed(2)},
    name:'Survival probability',nameLocation:'middle',nameRotate:90,nameGap:29,nameTextStyle:{fontSize:6,color:'#000',fontFamily:SANS}});
  xAxes.push({gridIndex:gr,type:'value',min:xmin,max:xmax,axisLine:axLine,splitLine:{show:false},
    axisTick:{show:true,length:2.5,customValues:ticks,lineStyle:{color:AX,width:0.6}},
    axisLabel:{customValues:ticks,fontSize:5.5,color:'#4d4d4d',margin:3,fontFamily:SANS},
    name:'Time (day)',nameLocation:'middle',nameGap:17,nameTextStyle:{fontSize:7,color:'#000',fontFamily:SANS}});
  yAxes.push({gridIndex:gr,type:'category',data:strata,axisLine:axLine,splitLine:{show:false},
    axisTick:{show:true,length:2,alignWithLabel:true,lineStyle:{color:AX,width:0.6}},
    axisLabel:{fontSize:5.5,margin:2,fontFamily:SANS,color:(v)=>v==='tmp=high'?RED:TEAL},
    name:'Strata',nameLocation:'middle',nameRotate:90,nameGap:29,nameTextStyle:{fontSize:6,color:'#000',fontFamily:SANS}});

  const hc=highCurves[i],lc=lowCurves[i];
  series.push(bandSeries(highBands[i],hc[hc.length-1][0],RED_BAND,gm));
  series.push(bandSeries(lowBands[i],lc[lc.length-1][0],TEAL_BAND,gm));
  series.push({type:'line',xAxisIndex:gm,yAxisIndex:gm,data:hc,step:'end',symbol:'none',z:3,lineStyle:{color:RED,width:0.9},silent:true});
  series.push({type:'line',xAxisIndex:gm,yAxisIndex:gm,data:lc,step:'end',symbol:'none',z:4,lineStyle:{color:TEAL,width:0.9},silent:true});
  series.push({type:'scatter',xAxisIndex:gm,yAxisIndex:gm,data:highCens[i].map(t=>[t,stepAt(hc,t)]),symbol:PLUS,symbolSize:4,z:5,itemStyle:{color:RED},silent:true});
  series.push({type:'scatter',xAxisIndex:gm,yAxisIndex:gm,data:lowCens[i].map(t=>[t,stepAt(lc,t)]),symbol:PLUS,symbolSize:4,z:5,itemStyle:{color:TEAL},silent:true});
  const rdata=ticks.map((t,k)=>[t,1,riskHigh[i][k]]).concat(ticks.map((t,k)=>[t,0,riskLow[i][k]]));
  series.push({type:'scatter',xAxisIndex:gr,yAxisIndex:gr,data:rdata,symbolSize:1,itemStyle:{color:'rgba(0,0,0,0)'},silent:true,
    label:{show:true,position:'inside',formatter:p=>String(p.value[2]),fontSize:6,color:'#000',fontFamily:SANS}});

  // title
  graphics.push(txt(L[4],L[5],titles[i],{size:35,family:TFONT,weight:'bold',color:'#3d3d3d',align:'right'}));
  // P value
  graphics.push({type:'text',x:L[6],y:L[7],z:100,silent:true,style:{text:'{i|P}{n|='+pValues[i]+'}',align:'center',verticalAlign:'middle',textAlign:'center',textVerticalAlign:'middle',
    rich:{i:{fontStyle:'italic',fontSize:11,fontFamily:TFONT,fill:'#222',color:'#222'},n:{fontSize:11,fontFamily:TFONT,fill:'#222',color:'#222'}}}});
  if(pBoxed[i]){
    graphics.push({type:'rect',z:100,silent:true,shape:{x:L[8],y:L[9],width:L[10]-L[8],height:L[11]-L[9]},style:{fill:'none',stroke:'#C00000',lineWidth:2.4}});
  }
  // legend
  if(showLegend[i]){
    const cx=left+width/2,cy=y1-21;
    graphics.push(txt(cx-39,cy,'Strata',{size:4}));
    graphics.push({type:'rect',z:100,silent:true,shape:{x:cx-24,y:cy-3,width:10,height:6},style:{fill:RED_BAND}});
    graphics.push({type:'line',z:101,silent:true,shape:{x1:cx-24,y1:cy,x2:cx-14,y2:cy},style:{stroke:RED,lineWidth:0.8}});
    graphics.push(txt(cx-13,cy,'tmp=high',{size:4}));
    graphics.push({type:'rect',z:100,silent:true,shape:{x:cx+11,y:cy-3,width:10,height:6},style:{fill:TEAL_BAND}});
    graphics.push({type:'line',z:101,silent:true,shape:{x1:cx+11,y1:cy,x2:cx+21,y2:cy},style:{stroke:TEAL,lineWidth:0.8}});
    graphics.push(txt(cx+22,cy,'tmp=low',{size:4}));
  }
  graphics.push(txt(left+1,y0+33,'Number at risk',{size:7.5}));
}
graphics.push(txt(-1,1793,'0.05',{size:15,family:TFONT,style:'italic',color:'#222'}));

const chart=echarts.init(document.getElementById('c'),null,{renderer:'canvas',width:1203,height:1802});
chart.setOption({animation:false,backgroundColor:'#fff',grid:grids,xAxis:xAxes,yAxis:yAxes,series:series,graphic:{elements:graphics}});
</script></body></html>
